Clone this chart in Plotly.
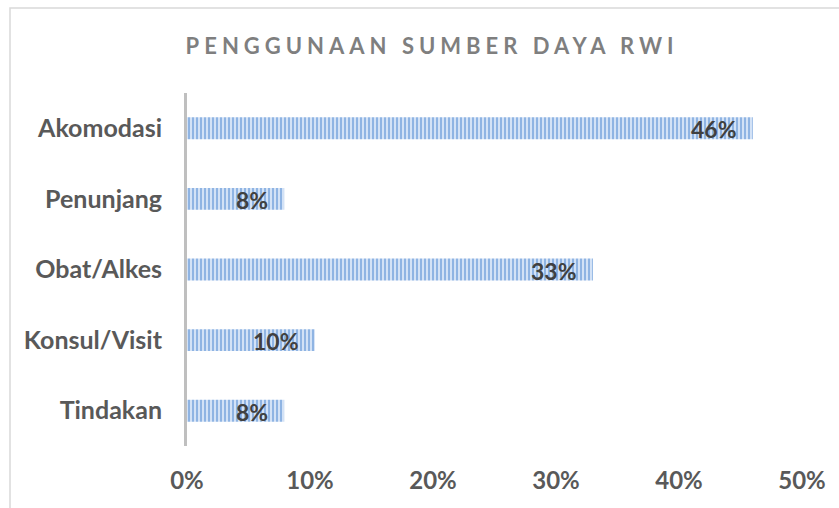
import plotly.graph_objects as go

categories = ["Akomodasi", "Penunjang", "Obat/Alkes", "Konsul/Visit", "Tindakan"]
values = [0.46, 0.079, 0.33, 0.104, 0.079]
x_ticks = [0, 0.1, 0.2, 0.3, 0.4, 0.5]
x_tick_labels = ["0%", "10%", "20%", "30%", "40%", "50%"]
title_text = "PENGGUNAAN SUMBER DAYA RWI"

FONT = "Lato"

fig = go.Figure()
fig.add_trace(go.Bar(
    x=values,
    y=categories,
    orientation="h",
    marker=dict(
        color="#c9dbf3",
        line=dict(width=0),
        pattern=dict(shape="|", size=4, solidity=0.5,
                     fgcolor="#8fb4e3", bgcolor="#d3e2f6", fillmode="replace"),
    ),
    hoverinfo="skip",
))

for c, v in zip(categories, values):
    fig.add_annotation(
        x=v, y=c, xref="x", yref="y",
        text=f"{round(v * 100):d}%",
        showarrow=False, xanchor="right", yanchor="middle",
        xshift=-14, yshift=-1,
        font=dict(family=FONT, size=23, color="#404040", weight="bold"),
    )

# chart border (left/top visible, extends past the right/bottom of the view)
fig.add_shape(
    type="rect", xref="paper", yref="paper",
    x0=-(187 - 10) / 615, x1=1.2, y0=-0.5, y1=1 + (93 - 8) / 353,
    line=dict(color="#d9d9d9", width=1.5), fillcolor="rgba(0,0,0,0)",
    layer="below",
)

fig.update_layout(
    width=839, height=508,
    margin=dict(l=187, r=37, t=93, b=62),
    paper_bgcolor="white", plot_bgcolor="white",
    showlegend=False,
    bargap=0.69,
    title=dict(
        text=title_text, x=0.515, xanchor="center", y=1 - 46 / 508, yanchor="middle",
        font=dict(family=FONT, size=22, color="#7f7f7f", weight="bold"),
    ),
    xaxis=dict(
        range=[0, 0.5], tickvals=x_ticks, ticktext=x_tick_labels,
        showgrid=False, zeroline=False, showline=False, ticks="",
        ticklabelstandoff=18,
        tickfont=dict(family=FONT, size=24, color="#595959", weight="bold"),
    ),
    yaxis=dict(
        categoryorder="array", categoryarray=categories[::-1],
        showgrid=False, zeroline=False, showline=True,
        linecolor="#bfbfbf", linewidth=3, ticks="",
        ticklabelstandoff=17,
        tickfont=dict(family=FONT, size=25, color="#595959", weight="bold"),
    ),
)

post = """
document.body.style.margin='0';
document.body.style.padding='0';
document.querySelectorAll('.gtitle').forEach(function(e){ e.style.letterSpacing='5px'; });
"""
fig.write_html("out.html", post_script=post, config={"displayModeBar": False})
